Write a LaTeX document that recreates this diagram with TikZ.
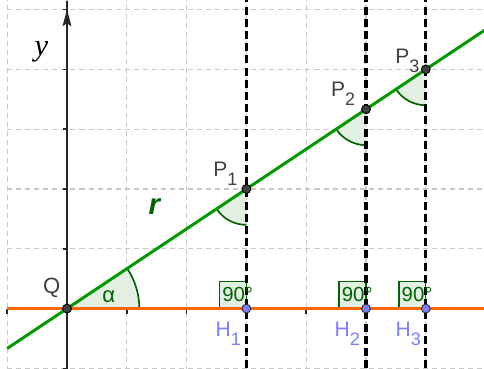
\documentclass[tikz,border=0pt]{standalone}
\usepackage{fontspec}
\usetikzlibrary{calc}
\setmainfont{Liberation Sans}
\newfontfamily\serifit{Liberation Serif}
\definecolor{rgreen}{RGB}{0,153,0}
\definecolor{dgreen}{RGB}{0,100,0}
\definecolor{afill}{RGB}{228,239,228}
\definecolor{rorange}{RGB}{255,102,0}
\definecolor{hblue}{RGB}{125,125,255}
\definecolor{ptgrey}{RGB}{64,64,64}
\definecolor{gridgrey}{RGB}{200,200,200}
\newcommand{\lbl}[2]{#1\raisebox{-4.4pt}{\fontsize{8.6}{9}\selectfont #2}}
\begin{document}
\begin{tikzpicture}[
  gridline/.style={gridgrey, line width=0.5pt, dash pattern=on 2.4pt off 1.9pt},
  axisline/.style={black!85, line width=0.8pt},
  perpline/.style={black, line width=1.5pt, dash pattern=on 3.8pt off 2pt},
  rline/.style={rgreen, line width=1.4pt},
  oline/.style={rorange, line width=1.4pt},
  anglefillst/.style={fill=afill},
  anglearc/.style={dgreen, line width=0.8pt},
  rightbox/.style={fill=afill, draw=dgreen, line width=0.6pt},
  ptP/.style={circle, fill=ptgrey, draw=black, line width=0.45pt, inner sep=0pt, minimum size=4.2pt},
  ptH/.style={circle, fill=hblue, draw=black!80, line width=0.45pt, inner sep=0pt, minimum size=4.2pt},
  labP/.style={anchor=base west, inner sep=0pt, text=black!75, font=\fontsize{10}{12}\selectfont},
  labH/.style={anchor=base west, inner sep=0pt, text=hblue, font=\fontsize{10}{12}\selectfont},
  labdeg/.style={anchor=base west, inner sep=0pt, text=dgreen, font=\fontsize{9.7}{11}\selectfont},
]
\useasboundingbox (-1.12,-1.01) rectangle (6.973,5.16);
\clip (-1.12,-1.01) rectangle (6.973,5.16);
% grid
\foreach \x in {-1,...,6} \draw[gridline] (\x,-1.2) -- (\x,5.3);
\foreach \y in {-1,...,5} \draw[gridline] (-1,\y) -- (7.2,\y);
% coordinates
\coordinate (Q) at (0,0);
\coordinate (P1) at (3,2);
\coordinate (P2) at (5,10/3);
\coordinate (P3) at (6,4);
\coordinate (H1) at (3,0);
\coordinate (H2) at (5,0);
\coordinate (H3) at (6,0);
\coordinate (rL) at (-1,-2/3);
\coordinate (rR) at (7.3,4.8667);
\coordinate (oL) at (-1,0);
\coordinate (oR) at (7.3,0);
\coordinate (yB) at (0,-1.2);
\coordinate (yT) at (0,5.14);
% y axis
\draw[axisline] (yB) -- (yT);
\fill[black!85] (0,5.0) -- (-0.075,4.72) -- (0,4.77) -- (0.075,4.72) -- cycle;
\foreach \y in {-1,...,5} \draw[axisline] (-0.07,\y) -- (0,\y);
\foreach \x in {-1,1,2,4} \draw[axisline] (\x,0) -- (\x,-0.09);
% angle alpha
\fill[anglefillst] (Q) -- (1.21,0) arc[start angle=0, end angle=33.69, radius=1.21] -- cycle;
\draw[anglearc] (1.21,0) arc[start angle=0, end angle=33.69, radius=1.21];
% angles at P
\foreach \p in {P1,P2,P3}{
  \fill[anglefillst] (\p) -- ++(213.69:0.6) arc[start angle=213.69, end angle=270, radius=0.6] -- cycle;
  \draw[anglearc] (\p) ++(213.69:0.6) arc[start angle=213.69, end angle=270, radius=0.6];
}
% right angle boxes
\foreach \h in {H1,H2,H3}{
  \draw[rightbox] (\h) rectangle ++(-0.45,0.45);
}
% perpendiculars
\foreach \x in {3,5,6} \draw[perpline] (\x,-1.2) -- (\x,5.3);
% lines
\draw[oline] (oL) -- (oR);
\draw[rline] (rL) -- (rR);
% 90 labels
\foreach \h in {H1,H2,H3}{
  \node[labdeg] at ($(\h)+(-0.41,0.12)$) {90°};
}
% points
\node[ptP] (nQ) at (Q) {};
\node[ptP] (nP1) at (P1) {};
\node[ptP] (nP2) at (P2) {};
\node[ptP] (nP3) at (P3) {};
\node[ptH] (nH1) at (H1) {};
\node[ptH] (nH2) at (H2) {};
\node[ptH] (nH3) at (H3) {};
% labels
\node[labP] (tP1) at (3-0.56,2+0.21) {\lbl{P}{1}};
\node[labP] (tP2) at (5-0.59,3.333+0.22) {\lbl{P}{2}};
\node[labP] (tP3) at (6-0.515,4+0.10) {\lbl{P}{3}};
\node[labH] (tH1) at (3-0.52,-0.47) {\lbl{H}{1}};
\node[labH] (tH2) at (5-0.53,-0.46) {\lbl{H}{2}};
\node[labH] (tH3) at (6-0.51,-0.46) {\lbl{H}{3}};
\node[text=black!75, font=\fontsize{10.5}{12}\selectfont, inner sep=0pt] (tQ) at (-0.256,0.343) {Q};
\node[text=dgreen, font=\fontsize{10.5}{12}\selectfont, inner sep=0pt] (tA) at (0.70,0.205) {α};
\node[text=dgreen, font=\fontsize{14}{16}\selectfont\bfseries\itshape, inner sep=0pt] (tr) at (1.463,1.706) {r};
\node[font=\fontsize{14.5}{16}\selectfont\serifit\itshape, inner sep=0pt] (ty) at (-0.426,4.29) {y};
\end{tikzpicture}
\end{document}
